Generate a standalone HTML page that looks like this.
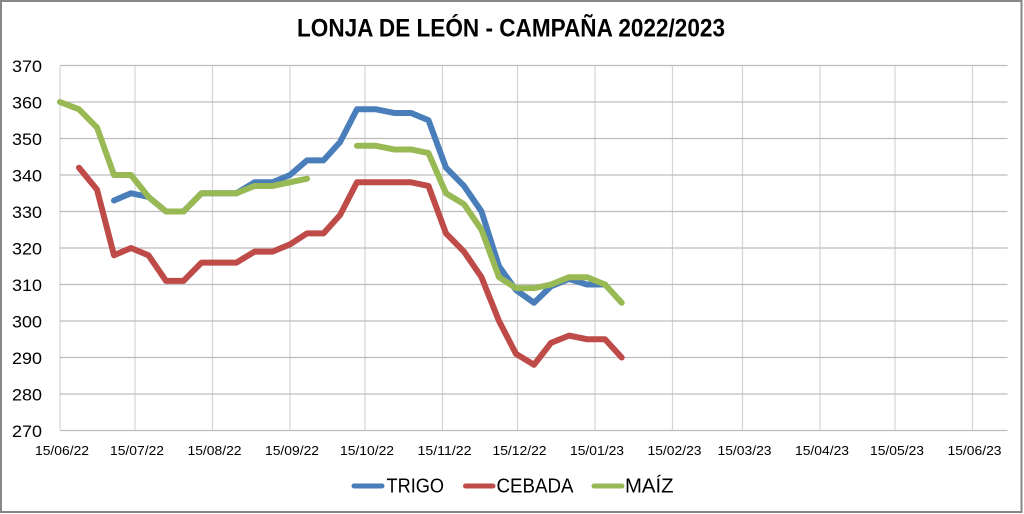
<!DOCTYPE html>
<html>
<head>
<meta charset="utf-8">
<style>
html,body{margin:0;padding:0;background:#fff;}
svg{display:block;}
</style>
</head>
<body>
<svg width="1024" height="514" viewBox="0 0 1024 514" xmlns="http://www.w3.org/2000/svg">
<rect x="0" y="0" width="1024" height="514" fill="#fff"/>
<rect x="1" y="1" width="1020.5" height="511" fill="#fff" stroke="#878787" stroke-width="2"/>

<text x="511" y="36.5" font-family="Liberation Sans, sans-serif" font-weight="bold" font-size="25" fill="#000" text-anchor="middle" textLength="428" lengthAdjust="spacingAndGlyphs">LONJA DE LEÓN - CAMPAÑA 2022/2023</text>

<!-- vertical gridlines -->
<g stroke="#d4d4d4" stroke-width="1.2">
<line x1="60" y1="65.5" x2="60" y2="430.5"/>
<line x1="135" y1="65.5" x2="135" y2="430.5"/>
<line x1="212.5" y1="65.5" x2="212.5" y2="430.5"/>
<line x1="290" y1="65.5" x2="290" y2="430.5"/>
<line x1="365" y1="65.5" x2="365" y2="430.5"/>
<line x1="442.5" y1="65.5" x2="442.5" y2="430.5"/>
<line x1="517.5" y1="65.5" x2="517.5" y2="430.5"/>
<line x1="595" y1="65.5" x2="595" y2="430.5"/>
<line x1="672.5" y1="65.5" x2="672.5" y2="430.5"/>
<line x1="742.5" y1="65.5" x2="742.5" y2="430.5"/>
<line x1="820" y1="65.5" x2="820" y2="430.5"/>
<line x1="895" y1="65.5" x2="895" y2="430.5"/>
<line x1="972.5" y1="65.5" x2="972.5" y2="430.5"/>
</g>
<!-- horizontal gridlines -->
<g stroke="#bdbdbd" stroke-width="1.3">
<line x1="60" y1="65.5" x2="1007.5" y2="65.5"/>
<line x1="60" y1="102" x2="1007.5" y2="102"/>
<line x1="60" y1="138.5" x2="1007.5" y2="138.5"/>
<line x1="60" y1="175" x2="1007.5" y2="175"/>
<line x1="60" y1="211.5" x2="1007.5" y2="211.5"/>
<line x1="60" y1="248" x2="1007.5" y2="248"/>
<line x1="60" y1="284.5" x2="1007.5" y2="284.5"/>
<line x1="60" y1="321" x2="1007.5" y2="321"/>
<line x1="60" y1="357.5" x2="1007.5" y2="357.5"/>
<line x1="60" y1="394" x2="1007.5" y2="394"/>
<line x1="60" y1="430.5" x2="1007.5" y2="430.5"/>
</g>

<!-- y labels -->
<g font-family="Liberation Sans, sans-serif" font-size="17" fill="#000" text-anchor="end">
<text x="42" y="72" textLength="30" lengthAdjust="spacingAndGlyphs">370</text>
<text x="42" y="108.5" textLength="30" lengthAdjust="spacingAndGlyphs">360</text>
<text x="42" y="145" textLength="30" lengthAdjust="spacingAndGlyphs">350</text>
<text x="42" y="181.5" textLength="30" lengthAdjust="spacingAndGlyphs">340</text>
<text x="42" y="218" textLength="30" lengthAdjust="spacingAndGlyphs">330</text>
<text x="42" y="254.5" textLength="30" lengthAdjust="spacingAndGlyphs">320</text>
<text x="42" y="291" textLength="30" lengthAdjust="spacingAndGlyphs">310</text>
<text x="42" y="327.5" textLength="30" lengthAdjust="spacingAndGlyphs">300</text>
<text x="42" y="364" textLength="30" lengthAdjust="spacingAndGlyphs">290</text>
<text x="42" y="400.5" textLength="30" lengthAdjust="spacingAndGlyphs">280</text>
<text x="42" y="437" textLength="30" lengthAdjust="spacingAndGlyphs">270</text>
</g>

<!-- x labels -->
<g font-family="Liberation Sans, sans-serif" font-size="13" fill="#000" text-anchor="middle">
<text x="62" y="455" textLength="54" lengthAdjust="spacingAndGlyphs">15/06/22</text>
<text x="137" y="455" textLength="54" lengthAdjust="spacingAndGlyphs">15/07/22</text>
<text x="214.5" y="455" textLength="54" lengthAdjust="spacingAndGlyphs">15/08/22</text>
<text x="292" y="455" textLength="54" lengthAdjust="spacingAndGlyphs">15/09/22</text>
<text x="367" y="455" textLength="54" lengthAdjust="spacingAndGlyphs">15/10/22</text>
<text x="444.5" y="455" textLength="54" lengthAdjust="spacingAndGlyphs">15/11/22</text>
<text x="519.5" y="455" textLength="54" lengthAdjust="spacingAndGlyphs">15/12/22</text>
<text x="597" y="455" textLength="54" lengthAdjust="spacingAndGlyphs">15/01/23</text>
<text x="674.5" y="455" textLength="54" lengthAdjust="spacingAndGlyphs">15/02/23</text>
<text x="744.5" y="455" textLength="54" lengthAdjust="spacingAndGlyphs">15/03/23</text>
<text x="822" y="455" textLength="54" lengthAdjust="spacingAndGlyphs">15/04/23</text>
<text x="897" y="455" textLength="54" lengthAdjust="spacingAndGlyphs">15/05/23</text>
<text x="974.5" y="455" textLength="54" lengthAdjust="spacingAndGlyphs">15/06/23</text>
</g>

<!-- series -->
<g fill="none" stroke-width="6" stroke-linejoin="round" stroke-linecap="round">
<!-- TRIGO -->
<polyline stroke="#4A7EBB" points="114,200.55 131,193.25 148.5,196.9 166,211.5 183.5,211.5 201.5,193.25 218.5,193.25 236.5,193.25 254.5,182.3 272.5,182.3 290,175 307,160.4 323.5,160.4 340,142.15 357,109.3 376,109.3 394,112.95 411,112.95 428.5,120.25 446,167.7 464,185.95 481.5,211.5 499,266.25 516,290 534,302.75 551,286.3 569,279 587,284.5 605,284.5"/>
<!-- CEBADA -->
<polyline stroke="#BE4B48" points="79,167.7 97,189.6 114,255.3 131,248 148.5,255.3 166,280.85 183.5,280.85 201.5,262.6 218.5,262.6 236.5,262.6 254.5,251.65 272.5,251.65 290,244.35 307,233.4 323.5,233.4 340,215.15 357,182.3 376,182.3 394,182.3 411,182.3 428.5,185.95 446,233.4 464,251.65 481.5,277.2 499,321 516,353.85 534,364.8 551,342.9 569,335.6 587,339.25 605,339.25 621.7,357.5"/>
<!-- MAIZ first segment -->
<polyline stroke="#98B954" points="60,102 79,109.3 97,127.55 114,175 131,175 148.5,196.9 166,211.5 183.5,211.5 201.5,193.25 218.5,193.25 236.5,193.25 254.5,185.95 272.5,185.95 290,182.3 307,178.65"/>
<!-- MAIZ second segment -->
<polyline stroke="#98B954" points="357,145.8 376,145.8 394,149.45 411,149.45 428.5,153.1 446,193.25 464,204.2 481.5,229.75 499,277.2 516,288.15 534,288.15 551,284.5 569,277.2 587,277.2 605,284.5 621.7,302.75"/>
</g>

<!-- legend -->
<g stroke-width="5" stroke-linecap="round">
<line x1="354" y1="486" x2="382" y2="486" stroke="#4A7EBB"/>
<line x1="465.5" y1="486" x2="493" y2="486" stroke="#BE4B48"/>
<line x1="594" y1="486" x2="622" y2="486" stroke="#98B954"/>
</g>
<g font-family="Liberation Sans, sans-serif" font-size="20" fill="#000">
<text x="386.5" y="492.5" textLength="57.5" lengthAdjust="spacingAndGlyphs">TRIGO</text>
<text x="496.5" y="492.5" textLength="77" lengthAdjust="spacingAndGlyphs">CEBADA</text>
<text x="625" y="492.5" textLength="48.5" lengthAdjust="spacingAndGlyphs">MAÍZ</text>
</g>
</svg>
</body>
</html>
